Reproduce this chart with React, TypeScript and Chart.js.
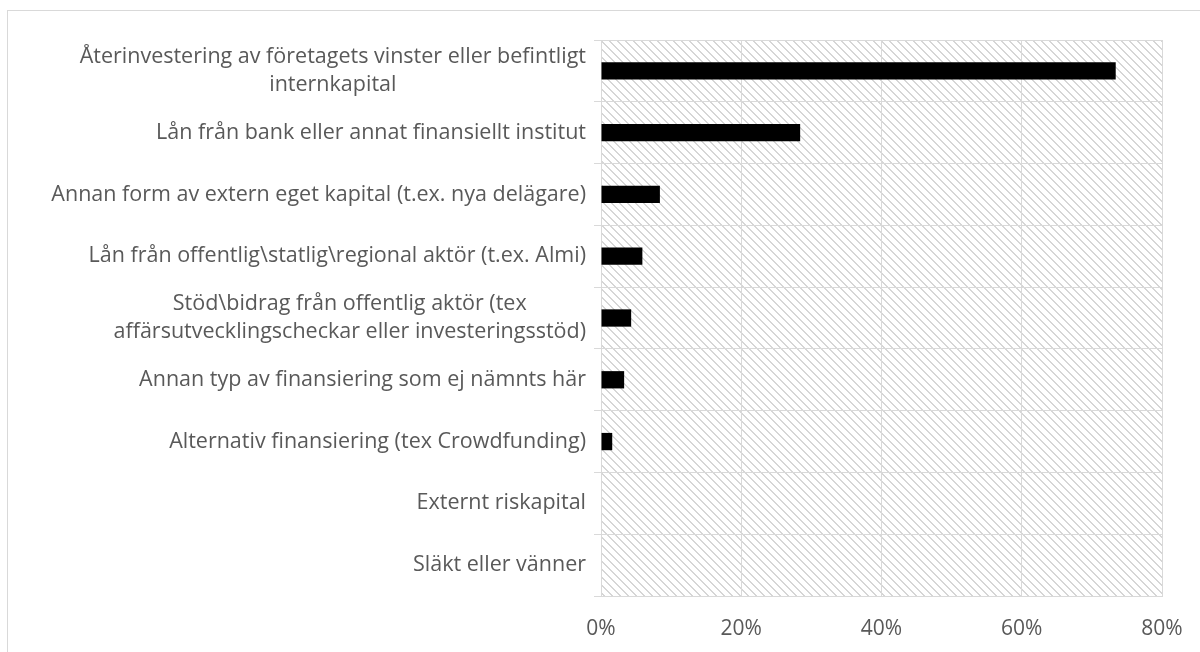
import React, { useEffect, useRef } from "react";
import { Chart, registerables } from "chart.js";

Chart.register(...registerables);

const categories: string[][] = [
  ["Återinvestering av företagets vinster eller befintligt", "internkapital"],
  ["Lån från bank eller annat finansiellt institut"],
  ["Annan form av extern eget kapital (t.ex. nya delägare)"],
  ["Lån från offentlig\\statlig\\regional aktör (t.ex. Almi)"],
  ["Stöd\\bidrag från offentlig aktör (tex", "affärsutvecklingscheckar eller investeringsstöd)"],
  ["Annan typ av finansiering som ej nämnts här"],
  ["Alternativ finansiering (tex Crowdfunding)"],
  ["Externt riskapital"],
  ["Släkt eller vänner"],
];

const values: number[] = [73.4, 28.4, 8.4, 5.9, 4.3, 3.3, 1.6, 0, 0];

const xTicks: number[] = [0, 20, 40, 60, 80];

const TEXT = "#595959";
const GRID = "#d9d9d9";
const FONT = "'Open Sans', sans-serif";

function makePattern(ctx: CanvasRenderingContext2D): CanvasPattern | string {
  const tile = document.createElement("canvas");
  tile.width = 8;
  tile.height = 8;
  const t = tile.getContext("2d");
  if (!t) return "#ffffff";
  t.fillStyle = "#ffffff";
  t.fillRect(0, 0, 8, 8);
  t.fillStyle = "#d6d6d6";
  for (let y = 0; y < 8; y++) {
    for (let x = 0; x < 8; x++) {
      const d = (((x - y) % 8) + 8) % 8;
      if (d === 0 || d === 1) t.fillRect(x, y, 1, 1);
    }
  }
  return ctx.createPattern(tile, "repeat") || "#ffffff";
}

const hatchPlugin = {
  id: "hatch",
  beforeDraw(chart: any) {
    const { ctx, chartArea } = chart;
    ctx.save();
    ctx.fillStyle = makePattern(ctx);
    ctx.fillRect(chartArea.left, chartArea.top, chartArea.right - chartArea.left, chartArea.bottom - chartArea.top);
    ctx.restore();
  },
};

const labelPlugin = {
  id: "catLabels",
  afterDraw(chart: any) {
    const { ctx } = chart;
    const yScale = chart.scales.y;
    const right = chart.chartArea.left - 15;
    ctx.save();
    ctx.font = `21.5px ${FONT}`;
    ctx.fillStyle = TEXT;
    ctx.textAlign = "center";
    ctx.textBaseline = "middle";
    const lineH = 28;
    categories.forEach((lines, i) => {
      const yc = yScale.getPixelForValue(i);
      const w = Math.max(...lines.map((l) => ctx.measureText(l).width));
      const cx = right - w / 2;
      lines.forEach((l, j) => {
        ctx.fillText(l, cx, yc + (j - (lines.length - 1) / 2) * lineH);
      });
    });
    ctx.restore();
  },
};

export default function App() {
  const ref = useRef<HTMLCanvasElement | null>(null);

  useEffect(() => {
    if (!ref.current) return;
    const chart = new Chart(ref.current, {
      type: "bar",
      data: {
        labels: categories,
        datasets: [
          {
            data: values,
            backgroundColor: "#000000",
            borderWidth: 0,
            barPercentage: 0.28,
            categoryPercentage: 1,
          },
        ],
      },
      options: {
        indexAxis: "y",
        responsive: false,
        animation: false,
        events: [],
        layout: { padding: { left: 594, top: 40, right: 38, bottom: 0 } },
        plugins: { legend: { display: false }, tooltip: { enabled: false } },
        scales: {
          x: {
            min: 0,
            max: 80,
            afterBuildTicks: (scale: any) => {
              scale.ticks = xTicks.map((v) => ({ value: v }));
            },
            afterFit: (scale: any) => {
              scale.height = 56;
              scale.paddingLeft = 0;
              scale.paddingRight = 0;
            },
            grid: { color: GRID, lineWidth: 1, drawTicks: false },
            border: { color: GRID, width: 1 },
            ticks: {
              padding: 20,
              color: TEXT,
              font: { family: FONT, size: 21 },
              callback: (v: any) => `${v}%`,
            },
          },
          y: {
            grid: { color: GRID, lineWidth: 1, drawTicks: true, tickLength: 7, offset: true },
            border: { color: GRID, width: 1 },
            ticks: { display: false },
          },
        },
      },
      plugins: [hatchPlugin, labelPlugin],
    });
    return () => chart.destroy();
  }, []);

  return (
    <div style={{ position: "fixed", inset: 0, overflow: "hidden", background: "#fff" }}>
      <canvas ref={ref} width={1200} height={652} style={{ position: "absolute", left: 0, top: 0, width: 1200, height: 652 }} />
      <div
        style={{
          position: "absolute",
          left: 7,
          top: 10,
          width: 1400,
          height: 900,
          borderTop: `1px solid ${GRID}`,
          borderLeft: `1px solid ${GRID}`,
          pointerEvents: "none",
        }}
      />
    </div>
  );
}
